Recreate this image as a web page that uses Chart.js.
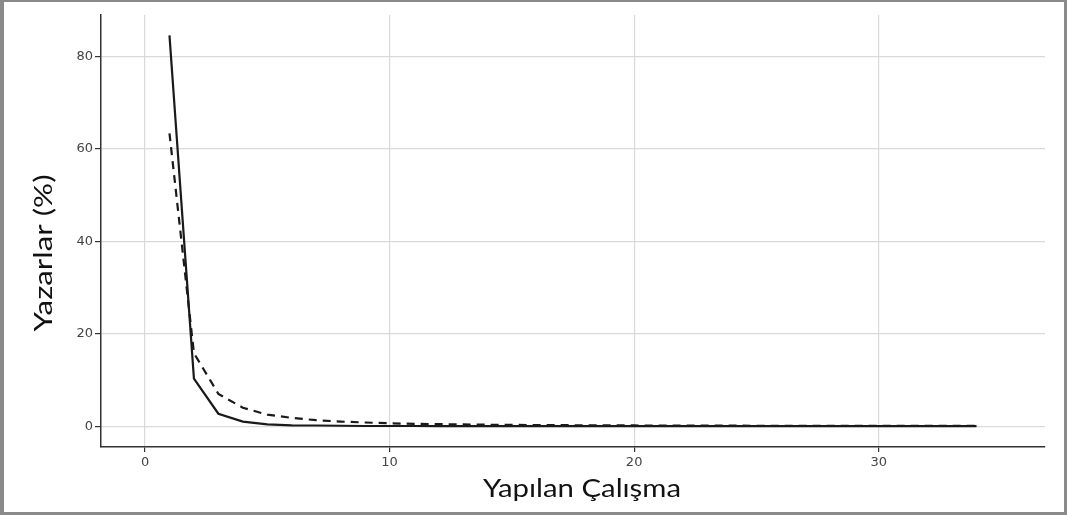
<!DOCTYPE html>
<html lang="tr">
<head>
    <meta charset="UTF-8">
    <title>Yazarlar (%) - Yapılan Çalışma</title>
    <script src="https://cdn.jsdelivr.net/npm/chart.js"></script>
    <style>
        body {
            margin: 0;
            background-color: #ffffff;
        }
        .wrap {
            position: relative;
            width: 1067px;
            height: 515px;
        }
        .frame {
            position: absolute;
            left: 0;
            top: 0;
            width: 1067px;
            height: 515px;
            box-sizing: border-box;
            border: 3px solid #8a8a8a;
            border-left-width: 4px;
            border-top-width: 2px;
            pointer-events: none;
        }
        canvas {
            position: absolute;
            left: 0;
            top: 0;
        }
    </style>
</head>
<body>
    <div class="wrap">
        <canvas id="chart" width="1067" height="515"></canvas>
        <div class="frame"></div>
    </div>
    <script>
        // Yapılan çalışma sayısı (x)
        const calismaSayisi = [1, 2, 3, 4, 5, 6, 7, 8, 9, 10, 11, 12, 13, 14, 15, 16, 17,
            18, 19, 20, 21, 22, 23, 24, 25, 26, 27, 28, 29, 30, 31, 32, 33, 34];
        // Gözlenen yazar yüzdesi (düz çizgi)
        const gozlenen = [84.6, 10.3, 2.7, 1.0, 0.4, 0.2, 0.15, 0.1, 0.05, 0.05, 0.04, 0.03,
            0.03, 0.02, 0.02, 0.02, 0.02, 0.02, 0.02, 0.01, 0.01, 0.01, 0.01, 0.01, 0.01,
            0.01, 0.01, 0.01, 0.01, 0.01, 0.01, 0.01, 0.01, 0.01];
        // Beklenen yazar yüzdesi (kesikli çizgi)
        const beklenen = [63.4, 15.8, 7.0, 4.0, 2.5, 1.8, 1.3, 1.0, 0.8, 0.63, 0.52, 0.44,
            0.38, 0.32, 0.28, 0.25, 0.22, 0.2, 0.18, 0.16, 0.14, 0.13, 0.12, 0.11, 0.1,
            0.09, 0.09, 0.08, 0.08, 0.07, 0.07, 0.06, 0.06, 0.05];
        const xTicks = [0, 10, 20, 30];
        const yTicks = [0, 20, 40, 60, 80];

        const toPoints = (xs, ys) => xs.map((x, i) => ({ x: x, y: ys[i] }));

        // eksen başlıkları (orijinalde elle yerleştirilmiş)
        const axisTitles = {
            id: 'axisTitles',
            afterDraw(chart) {
                const ctx = chart.ctx;
                ctx.save();
                ctx.fillStyle = '#111111';
                ctx.font = '25px Lato';
                ctx.textAlign = 'center';
                ctx.textBaseline = 'alphabetic';

                const xTitle = 'Yapılan Çalışma';
                let w = ctx.measureText(xTitle).width;
                ctx.save();
                ctx.translate(582, 497);
                ctx.scale(198 / w, 1);
                ctx.fillText(xTitle, 0, 0);
                ctx.restore();

                const yTitle = 'Yazarlar (%)';
                w = ctx.measureText(yTitle).width;
                ctx.save();
                ctx.translate(52, 253);
                ctx.rotate(-Math.PI / 2);
                ctx.scale(157 / w, 1);
                ctx.fillText(yTitle, 0, 0);
                ctx.restore();

                ctx.restore();
            }
        };

        new Chart(document.getElementById('chart'), {
            type: 'line',
            data: {
                datasets: [{
                    label: 'Gözlenen',
                    data: toPoints(calismaSayisi, gozlenen),
                    borderColor: '#1a1a1a',
                    borderWidth: 2.2,
                    pointRadius: 0,
                    tension: 0,
                    fill: false
                }, {
                    label: 'Beklenen',
                    data: toPoints(calismaSayisi, beklenen),
                    borderColor: '#1a1a1a',
                    borderWidth: 2.2,
                    borderDash: [8, 6],
                    pointRadius: 0,
                    tension: 0,
                    fill: false
                }]
            },
            options: {
                responsive: false,
                animation: false,
                devicePixelRatio: 1,
                layout: {
                    padding: { top: 15, right: 22, left: 0, bottom: 0 }
                },
                plugins: {
                    legend: { display: false },
                    tooltip: { enabled: false }
                },
                scales: {
                    x: {
                        type: 'linear',
                        min: -1.8,
                        max: 36.8,
                        afterBuildTicks: (scale) => {
                            scale.ticks = xTicks.map(v => ({ value: v }));
                        },
                        afterFit: (scale) => { scale.height = 68; },
                        grid: {
                            color: '#d9d9d9',
                            lineWidth: 1.2,
                            tickColor: '#333333',
                            tickLength: 5
                        },
                        border: { display: true, color: '#333333', width: 1.5 },
                        ticks: {
                            font: { family: 'DejaVu Sans', size: 13 },
                            color: '#444444',
                            padding: 3,
                            maxRotation: 0
                        }
                    },
                    y: {
                        type: 'linear',
                        min: -4.5,
                        max: 89,
                        afterBuildTicks: (scale) => {
                            scale.ticks = yTicks.map(v => ({ value: v }));
                        },
                        afterFit: (scale) => { scale.width = 101; },
                        grid: {
                            color: '#d9d9d9',
                            lineWidth: 1.2,
                            tickColor: '#333333',
                            tickLength: 6
                        },
                        border: { display: true, color: '#333333', width: 1.5 },
                        ticks: {
                            font: { family: 'DejaVu Sans', size: 13 },
                            color: '#444444',
                            padding: 2
                        }
                    }
                }
            },
            plugins: [axisTitles]
        });
    </script>
</body>
</html>
